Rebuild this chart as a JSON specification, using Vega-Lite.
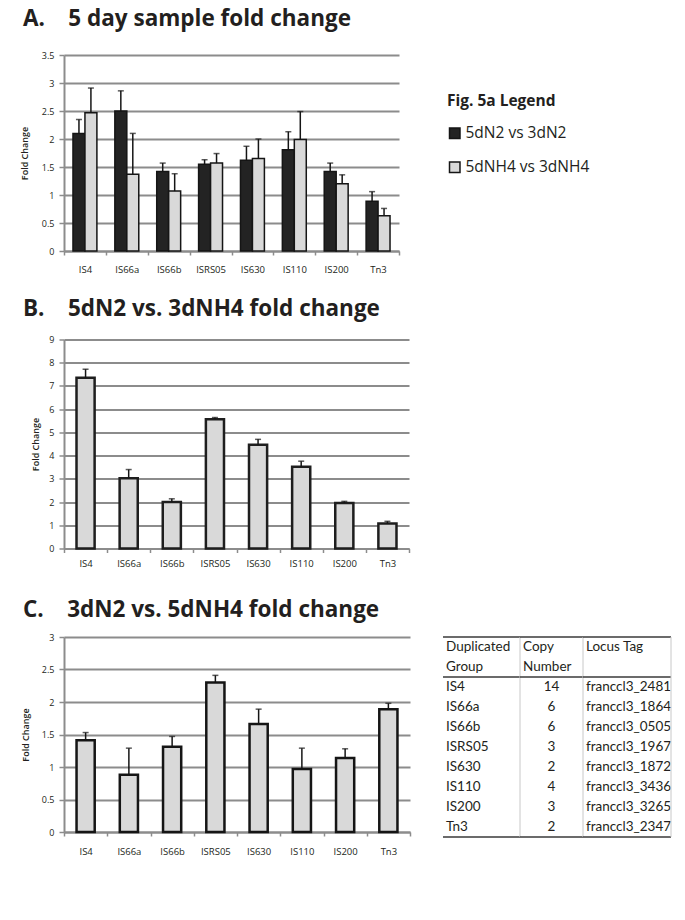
{
  "$schema": "https://vega.github.io/schema/vega-lite/v6.json",
  "background": "white",
  "padding": {"left": 20, "top": 8, "right": 5, "bottom": 5},
  "bounds": "flush",
  "spacing": 88.5,
  "config": {
    "view": {"stroke": null},
    "font": "Open Sans",
    "title": {"anchor": "start", "frame": "group", "fontSize": 22.5, "fontWeight": "bold", "color": "#231f20", "font": "Open Sans", "dx": -41},
    "axis": {"domainColor": "#8c8c8c", "domainWidth": 2, "gridColor": "#8c8c8c", "gridWidth": 2, "tickColor": "#8c8c8c", "tickWidth": 1.5, "labelColor": "#231f20", "labelFont": "Open Sans", "labelFontSize": 9, "titleColor": "#231f20", "titleFont": "Open Sans", "titleFontSize": 9, "titleFontWeight": 600},
    "axisX": {"grid": false, "labelAngle": 0, "tickBand": "extent", "tickSize": 4, "labelPadding": 9, "labelFontSize": 9.5},
    "axisY": {"tickSize": 5, "labelPadding": 5, "titlePadding": 12}
  },
  "datasets": {
    "a": [
      {"group": "IS4", "series": "5dN2 vs 3dN2", "value": 2.10, "upper": 2.35},
      {"group": "IS4", "series": "5dNH4 vs 3dNH4", "value": 2.47, "upper": 2.91},
      {"group": "IS66a", "series": "5dN2 vs 3dN2", "value": 2.50, "upper": 2.86},
      {"group": "IS66a", "series": "5dNH4 vs 3dNH4", "value": 1.37, "upper": 2.10},
      {"group": "IS66b", "series": "5dN2 vs 3dN2", "value": 1.42, "upper": 1.57},
      {"group": "IS66b", "series": "5dNH4 vs 3dNH4", "value": 1.07, "upper": 1.38},
      {"group": "ISRS05", "series": "5dN2 vs 3dN2", "value": 1.55, "upper": 1.63},
      {"group": "ISRS05", "series": "5dNH4 vs 3dNH4", "value": 1.57, "upper": 1.74},
      {"group": "IS630", "series": "5dN2 vs 3dN2", "value": 1.62, "upper": 1.87},
      {"group": "IS630", "series": "5dNH4 vs 3dNH4", "value": 1.65, "upper": 2.00},
      {"group": "IS110", "series": "5dN2 vs 3dN2", "value": 1.81, "upper": 2.13},
      {"group": "IS110", "series": "5dNH4 vs 3dNH4", "value": 1.99, "upper": 2.49},
      {"group": "IS200", "series": "5dN2 vs 3dN2", "value": 1.42, "upper": 1.57},
      {"group": "IS200", "series": "5dNH4 vs 3dNH4", "value": 1.20, "upper": 1.36},
      {"group": "Tn3", "series": "5dN2 vs 3dN2", "value": 0.89, "upper": 1.06},
      {"group": "Tn3", "series": "5dNH4 vs 3dNH4", "value": 0.63, "upper": 0.76}
    ],
    "b": [
      {"group": "IS4", "value": 7.35, "upper": 7.72},
      {"group": "IS66a", "value": 3.02, "upper": 3.40},
      {"group": "IS66b", "value": 2.00, "upper": 2.14},
      {"group": "ISRS05", "value": 5.57, "upper": 5.64},
      {"group": "IS630", "value": 4.47, "upper": 4.70},
      {"group": "IS110", "value": 3.52, "upper": 3.76},
      {"group": "IS200", "value": 1.96, "upper": 2.03},
      {"group": "Tn3", "value": 1.08, "upper": 1.17}
    ],
    "c": [
      {"group": "IS4", "value": 1.41, "upper": 1.53},
      {"group": "IS66a", "value": 0.88, "upper": 1.29},
      {"group": "IS66b", "value": 1.31, "upper": 1.47},
      {"group": "ISRS05", "value": 2.30, "upper": 2.41},
      {"group": "IS630", "value": 1.66, "upper": 1.89},
      {"group": "IS110", "value": 0.97, "upper": 1.29},
      {"group": "IS200", "value": 1.14, "upper": 1.28},
      {"group": "Tn3", "value": 1.89, "upper": 1.98}
    ],
    "table": [
      {"row": 1, "group": "IS4", "copies": 14, "locus": "franccl3_2481"},
      {"row": 2, "group": "IS66a", "copies": 6, "locus": "franccl3_1864"},
      {"row": 3, "group": "IS66b", "copies": 6, "locus": "franccl3_0505"},
      {"row": 4, "group": "ISRS05", "copies": 3, "locus": "franccl3_1967"},
      {"row": 5, "group": "IS630", "copies": 2, "locus": "franccl3_1872"},
      {"row": 6, "group": "IS110", "copies": 4, "locus": "franccl3_3436"},
      {"row": 7, "group": "IS200", "copies": 3, "locus": "franccl3_3265"},
      {"row": 8, "group": "Tn3", "copies": 2, "locus": "franccl3_2347"}
    ],
    "one": [{}]
  },
  "vconcat": [
    {
      "title": {"text": "A.\u00a0\u00a0\u00a0\u00a05 day sample fold change", "offset": 20.5},
      "width": 335,
      "height": 196,
      "data": {"name": "a"},
      "encoding": {
        "x": {"field": "group", "type": "nominal", "sort": ["IS4", "IS66a", "IS66b", "ISRS05", "IS630", "IS110", "IS200", "Tn3"], "scale": {"paddingInner": 0, "paddingOuter": 0}, "axis": {"title": null}},
        "xOffset": {"field": "series", "type": "nominal", "sort": ["5dN2 vs 3dN2", "5dNH4 vs 3dNH4"], "scale": {"paddingInner": 0, "paddingOuter": 0.75}}
      },
      "layer": [
        {
          "mark": {"type": "bar", "stroke": "#151515", "strokeWidth": 1.5},
          "encoding": {
            "y": {"field": "value", "type": "quantitative", "title": "Fold Change", "scale": {"domain": [0, 3.5], "nice": false}, "axis": {"values": [0, 0.5, 1, 1.5, 2, 2.5, 3, 3.5], "format": ".1~f", "titlePadding": 12}},
            "color": {"field": "series", "type": "nominal", "sort": ["5dN2 vs 3dN2", "5dNH4 vs 3dNH4"], "scale": {"range": ["#232323", "#d9d9d9"]},
              "legend": {"title": "Fig. 5a Legend", "orient": "none", "legendX": 383, "legendY": 39, "symbolType": "square", "symbolSize": 110, "symbolStrokeColor": "#151515", "symbolStrokeWidth": 1.5, "symbolOpacity": 1, "labelFontSize": 15.5, "labelFont": "Open Sans", "labelColor": "#231f20", "titleFontSize": 15.5, "titleFont": "Open Sans", "titleFontWeight": "bold", "titleColor": "#231f20", "rowPadding": 16, "titlePadding": 16, "labelOffset": 3}}
          }
        },
        {
          "mark": {"type": "rule", "color": "#151515", "strokeWidth": 1.5},
          "encoding": {
            "y": {"field": "value", "type": "quantitative", "title": "Fold Change", "scale": {"domain": [0, 3.5], "nice": false}, "axis": {"values": [0, 0.5, 1, 1.5, 2, 2.5, 3, 3.5], "format": ".1~f", "titlePadding": 12}},
            "y2": {"field": "upper"}
          }
        },
        {
          "mark": {"type": "tick", "color": "#151515", "thickness": 1.5, "size": 6},
          "encoding": {
            "y": {"field": "upper", "type": "quantitative", "title": "Fold Change", "scale": {"domain": [0, 3.5], "nice": false}, "axis": {"values": [0, 0.5, 1, 1.5, 2, 2.5, 3, 3.5], "format": ".1~f", "titlePadding": 12}}
          }
        }
      ]
    },
    {
      "title": {"text": "B.\u00a0\u00a0\u00a0\u00a05dN2 vs. 3dNH4 fold change", "offset": 15},
      "width": 345,
      "height": 209,
      "data": {"name": "b"},
      "encoding": {
        "x": {"field": "group", "type": "nominal", "sort": ["IS4", "IS66a", "IS66b", "ISRS05", "IS630", "IS110", "IS200", "Tn3"], "scale": {"paddingInner": 0, "paddingOuter": 0}, "axis": {"title": null, "labelPadding": 6}}
      },
      "layer": [
        {
          "mark": {"type": "bar", "fill": "#d9d9d9", "stroke": "#1e1e1e", "strokeWidth": 2.5, "width": {"band": 0.42}},
          "encoding": {"y": {"field": "value", "type": "quantitative", "title": "Fold Change", "scale": {"domain": [0, 9], "nice": false}, "axis": {"values": [0, 1, 2, 3, 4, 5, 6, 7, 8, 9], "titlePadding": 8}}}
        },
        {
          "mark": {"type": "rule", "color": "#151515", "strokeWidth": 1.5},
          "encoding": {"y": {"field": "value", "type": "quantitative", "title": "Fold Change", "scale": {"domain": [0, 9], "nice": false}, "axis": {"values": [0, 1, 2, 3, 4, 5, 6, 7, 8, 9], "titlePadding": 8}}, "y2": {"field": "upper"}}
        },
        {
          "mark": {"type": "tick", "color": "#151515", "thickness": 1.5, "size": 6},
          "encoding": {"y": {"field": "upper", "type": "quantitative", "title": "Fold Change", "scale": {"domain": [0, 9], "nice": false}, "axis": {"values": [0, 1, 2, 3, 4, 5, 6, 7, 8, 9], "titlePadding": 8}}}
        }
      ]
    },
    {
      "title": {"text": "C.\u00a0\u00a0\u00a0\u00a03dN2 vs. 5dNH4 fold change", "offset": 12},
      "spacing": 33,
      "bounds": "flush",
      "hconcat": [
        {
          "width": 346,
          "height": 195,
          "data": {"name": "c"},
          "encoding": {
            "x": {"field": "group", "type": "nominal", "sort": ["IS4", "IS66a", "IS66b", "ISRS05", "IS630", "IS110", "IS200", "Tn3"], "scale": {"paddingInner": 0, "paddingOuter": 0}, "axis": {"title": null, "labelPadding": 10}}
          },
          "layer": [
            {
              "mark": {"type": "bar", "fill": "#d9d9d9", "stroke": "#151515", "strokeWidth": 2.5, "width": {"band": 0.42}},
              "encoding": {"y": {"field": "value", "type": "quantitative", "title": "Fold Change", "scale": {"domain": [0, 3], "nice": false}, "axis": {"values": [0, 0.5, 1, 1.5, 2, 2.5, 3], "format": ".1~f", "titlePadding": 11}}}
            },
            {
              "mark": {"type": "rule", "color": "#151515", "strokeWidth": 1.5},
              "encoding": {"y": {"field": "value", "type": "quantitative", "title": "Fold Change", "scale": {"domain": [0, 3], "nice": false}, "axis": {"values": [0, 0.5, 1, 1.5, 2, 2.5, 3], "format": ".1~f", "titlePadding": 11}}, "y2": {"field": "upper"}}
            },
            {
              "mark": {"type": "tick", "color": "#151515", "thickness": 1.5, "size": 6},
              "encoding": {"y": {"field": "upper", "type": "quantitative", "title": "Fold Change", "scale": {"domain": [0, 3], "nice": false}, "axis": {"values": [0, 0.5, 1, 1.5, 2, 2.5, 3], "format": ".1~f", "titlePadding": 11}}}
            }
          ]
        },
        {
          "spacing": 0,
          "bounds": "flush",
          "hconcat": [
            {
              "width": 77,
              "height": 200,
              "data": {"name": "table"},
              "layer": [
                {
                  "mark": {"type": "text", "align": "left", "baseline": "middle", "dx": 3, "font": "Lato", "fontSize": 13.5, "color": "#231f20"},
                  "encoding": {
                    "x": {"datum": 0, "type": "quantitative", "scale": {"domain": [0, 1]}, "axis": null},
                    "y": {"field": "row", "type": "quantitative", "scale": {"domain": [-1.5, 8.5], "reverse": true, "nice": false, "zero": false}, "axis": null},
                    "text": {"field": "group"}
                  }
                },
                {
                  "data": {"name": "one"},
                  "mark": {"type": "text", "align": "left", "baseline": "middle", "dx": 3, "font": "Lato", "fontSize": 13.5, "color": "#231f20", "text": "Duplicated"},
                  "encoding": {"x": {"datum": 0, "type": "quantitative"}, "y": {"datum": -1, "type": "quantitative"}}
                },
                {
                  "data": {"name": "one"},
                  "mark": {"type": "text", "align": "left", "baseline": "middle", "dx": 3, "font": "Lato", "fontSize": 13.5, "color": "#231f20", "text": "Group"},
                  "encoding": {"x": {"datum": 0, "type": "quantitative"}, "y": {"datum": 0, "type": "quantitative"}}
                },
                {
                  "data": {"name": "one"},
                  "mark": {"type": "rule", "color": "#3a3a3a", "strokeWidth": 1.5},
                  "encoding": {"y": {"datum": -1.5, "type": "quantitative"}}
                },
                {
                  "data": {"name": "one"},
                  "mark": {"type": "rule", "color": "#3a3a3a", "strokeWidth": 1.5},
                  "encoding": {"y": {"datum": 0.5, "type": "quantitative"}}
                },
                {
                  "data": {"name": "one"},
                  "mark": {"type": "rule", "color": "#3a3a3a", "strokeWidth": 1.5},
                  "encoding": {"y": {"datum": 8.5, "type": "quantitative"}}
                },
                {
                  "data": {"name": "one"},
                  "mark": {"type": "rule", "color": "#c8c8c8", "strokeWidth": 1},
                  "encoding": {"x": {"datum": 1, "type": "quantitative"}, "y": {"datum": -1.5, "type": "quantitative"}, "y2": {"datum": 8.5}}
                }
              ]
            },
            {
              "width": 63,
              "height": 200,
              "data": {"name": "table"},
              "layer": [
                {
                  "mark": {"type": "text", "align": "center", "baseline": "middle", "font": "Lato", "fontSize": 13.5, "color": "#231f20"},
                  "encoding": {
                    "x": {"datum": 0.5, "type": "quantitative", "scale": {"domain": [0, 1]}, "axis": null},
                    "y": {"field": "row", "type": "quantitative", "scale": {"domain": [-1.5, 8.5], "reverse": true, "nice": false, "zero": false}, "axis": null},
                    "text": {"field": "copies"}
                  }
                },
                {
                  "data": {"name": "one"},
                  "mark": {"type": "text", "align": "left", "baseline": "middle", "dx": 3, "font": "Lato", "fontSize": 13.5, "color": "#231f20", "text": "Copy"},
                  "encoding": {"x": {"datum": 0, "type": "quantitative"}, "y": {"datum": -1, "type": "quantitative"}}
                },
                {
                  "data": {"name": "one"},
                  "mark": {"type": "text", "align": "left", "baseline": "middle", "dx": 3, "font": "Lato", "fontSize": 13.5, "color": "#231f20", "text": "Number"},
                  "encoding": {"x": {"datum": 0, "type": "quantitative"}, "y": {"datum": 0, "type": "quantitative"}}
                },
                {
                  "data": {"name": "one"},
                  "mark": {"type": "rule", "color": "#3a3a3a", "strokeWidth": 1.5},
                  "encoding": {"y": {"datum": -1.5, "type": "quantitative"}}
                },
                {
                  "data": {"name": "one"},
                  "mark": {"type": "rule", "color": "#3a3a3a", "strokeWidth": 1.5},
                  "encoding": {"y": {"datum": 0.5, "type": "quantitative"}}
                },
                {
                  "data": {"name": "one"},
                  "mark": {"type": "rule", "color": "#3a3a3a", "strokeWidth": 1.5},
                  "encoding": {"y": {"datum": 8.5, "type": "quantitative"}}
                },
                {
                  "data": {"name": "one"},
                  "mark": {"type": "rule", "color": "#c8c8c8", "strokeWidth": 1},
                  "encoding": {"x": {"datum": 1, "type": "quantitative"}, "y": {"datum": -1.5, "type": "quantitative"}, "y2": {"datum": 8.5}}
                }
              ]
            },
            {
              "width": 88,
              "height": 200,
              "data": {"name": "table"},
              "layer": [
                {
                  "mark": {"type": "text", "align": "left", "baseline": "middle", "dx": 3, "font": "Lato", "fontSize": 13.5, "color": "#231f20"},
                  "encoding": {
                    "x": {"datum": 0, "type": "quantitative", "scale": {"domain": [0, 1]}, "axis": null},
                    "y": {"field": "row", "type": "quantitative", "scale": {"domain": [-1.5, 8.5], "reverse": true, "nice": false, "zero": false}, "axis": null},
                    "text": {"field": "locus"}
                  }
                },
                {
                  "data": {"name": "one"},
                  "mark": {"type": "text", "align": "left", "baseline": "middle", "dx": 3, "font": "Lato", "fontSize": 13.5, "color": "#231f20", "text": "Locus Tag"},
                  "encoding": {"x": {"datum": 0, "type": "quantitative"}, "y": {"datum": -1, "type": "quantitative"}}
                },
                {
                  "data": {"name": "one"},
                  "mark": {"type": "rule", "color": "#3a3a3a", "strokeWidth": 1.5},
                  "encoding": {"y": {"datum": -1.5, "type": "quantitative"}}
                },
                {
                  "data": {"name": "one"},
                  "mark": {"type": "rule", "color": "#3a3a3a", "strokeWidth": 1.5},
                  "encoding": {"y": {"datum": 0.5, "type": "quantitative"}}
                },
                {
                  "data": {"name": "one"},
                  "mark": {"type": "rule", "color": "#3a3a3a", "strokeWidth": 1.5},
                  "encoding": {"y": {"datum": 8.5, "type": "quantitative"}}
                },
                {
                  "data": {"name": "one"},
                  "mark": {"type": "rule", "color": "#c8c8c8", "strokeWidth": 1},
                  "encoding": {"x": {"datum": 1, "type": "quantitative"}, "y": {"datum": -1.5, "type": "quantitative"}, "y2": {"datum": 8.5}}
                }
              ]
            }
          ]
        }
      ]
    }
  ]
}
